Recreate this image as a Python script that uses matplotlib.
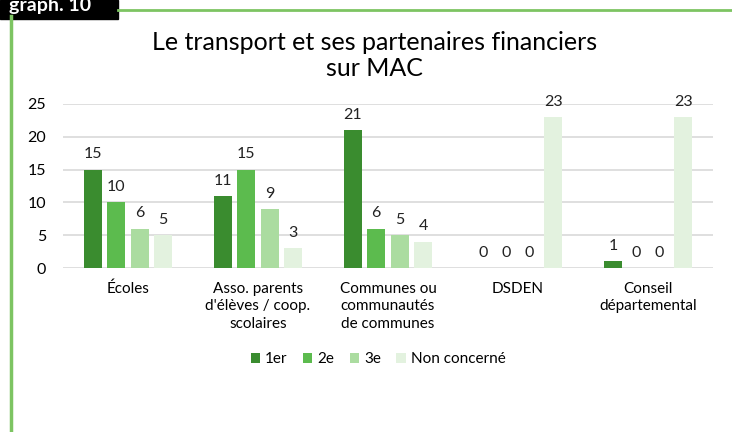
import matplotlib.pyplot as plt
import numpy as np
from matplotlib.lines import Line2D
from matplotlib.patches import Rectangle

plt.rcParams['font.family'] = ['Lato', 'DejaVu Sans']

categories = ["Écoles", "Asso. parents\nd'élèves / coop.\nscolaires",
              "Communes ou\ncommunautés\nde communes", "DSDEN",
              "Conseil\ndépartemental"]
series = ["1er", "2e", "3e", "Non concerné"]
premier = [15, 11, 21, 0, 1]
deuxieme = [10, 15, 6, 0, 0]
troisieme = [6, 9, 5, 0, 0]
non_concerne = [5, 3, 4, 23, 23]
colors = ["#3a8c2f", "#5cbb4e", "#abdca0", "#e3f2df"]


def main():
    fig = plt.figure(figsize=(7.32, 4.32), dpi=100)
    ax = fig.add_axes([0.086, 0.3796, 0.888, 0.3797])

    x = np.arange(len(categories))
    step = 0.18
    width = 0.14
    values = [premier, deuxieme, troisieme, non_concerne]
    for i, (vals, name, col) in enumerate(zip(values, series, colors)):
        pos = x + (i - 1.5) * step
        bars = ax.bar(pos, vals, width, color=col, label=name, zorder=3)
        ax.bar_label(bars, padding=6, fontsize=11.5, color="#222222")

    ax.set_xlim(-0.5, len(categories) - 0.5)
    ax.set_ylim(0, 25)
    ax.set_yticks(range(0, 26, 5))
    ax.set_xticks(x)
    ax.set_xticklabels(categories, fontsize=11, linespacing=1.3)
    ax.tick_params(axis="y", labelsize=11.5, length=0, pad=12)
    ax.tick_params(axis="x", length=0, pad=10)
    ax.grid(axis="y", color="#d9d9d9", linewidth=1.2, zorder=0)
    for s in ax.spines.values():
        s.set_visible(False)

    ax.legend(loc="upper center", bbox_to_anchor=(0.485, -0.43), ncol=4,
              frameon=False, fontsize=11, handlelength=0.6, handleheight=0.6,
              handletextpad=0.35, columnspacing=1.0)

    fig.text(0.512, 0.872, "Le transport et ses partenaires financiers\nsur MAC",
             ha="center", va="center", fontsize=18, linespacing=1.15)

    # frame decoration
    fig.add_artist(Line2D([118 / 732, 1], [1 - 10 / 432] * 2, color="#7dc462", lw=2))
    fig.add_artist(Line2D([11 / 732] * 2, [0, 1 - 16 / 432], color="#7dc462", lw=2.5))
    fig.add_artist(Rectangle((0, 1 - 19 / 432), 118 / 732, 19 / 432,
                             color="black", transform=fig.transFigure))
    fig.text(0.012, 1 - 6 / 432, "graph. 10", color="white", fontsize=14,
             fontweight="bold", ha="left", va="center")

    fig.savefig("out.png", dpi=100)


if __name__ == '__main__':
    main()
